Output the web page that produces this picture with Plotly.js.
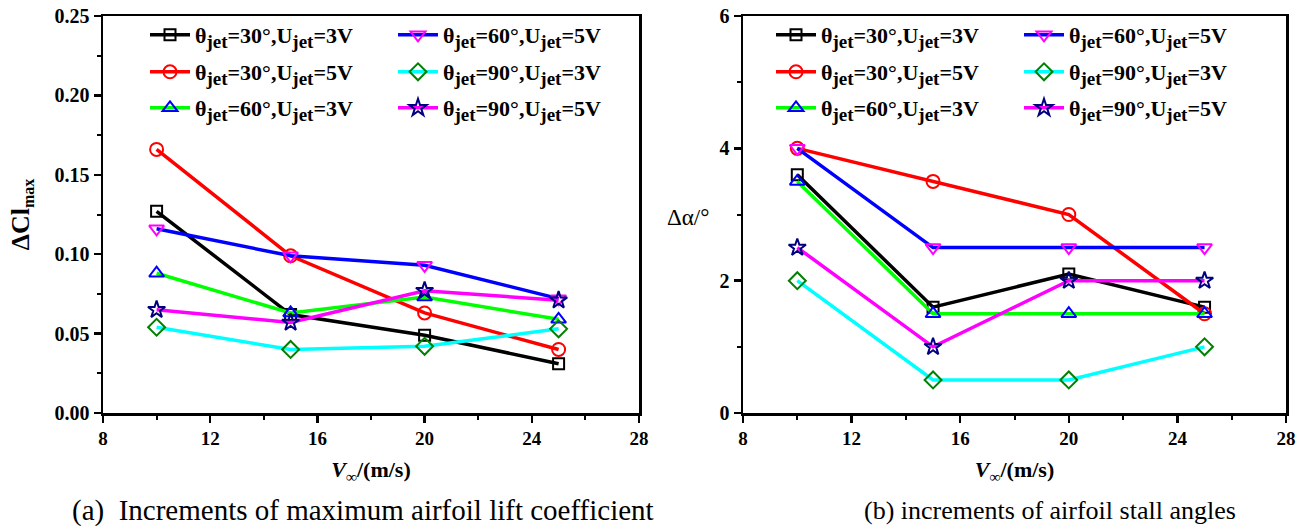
<!DOCTYPE html>
<html>
<head>
<meta charset="utf-8">
<script src="https://cdn.plot.ly/plotly-3.0.1.min.js"></script>
<style>html,body{margin:0;padding:0;background:#fff;}#chart{width:1309px;height:526px;}</style>
</head>
<body>
<div id="chart"></div>
<script>
// ---- data ----
const speeds = [10, 15, 20, 25];
const seriesLabels = ['30°,3V', '30°,5V', '60°,3V', '60°,5V', '90°,3V', '90°,5V'];
// increments of maximum lift coefficient (panel a)
const cl_30_3 = [0.127, 0.062, 0.049, 0.031];
const cl_30_5 = [0.166, 0.099, 0.063, 0.040];
const cl_60_3 = [0.088, 0.063, 0.073, 0.059];
const cl_60_5 = [0.116, 0.099, 0.093, 0.072];
const cl_90_3 = [0.054, 0.040, 0.042, 0.053];
const cl_90_5 = [0.065, 0.057, 0.077, 0.071];
// increments of stall angle (panel b)
const da_30_3 = [3.6, 1.6, 2.1, 1.6];
const da_30_5 = [4.0, 3.5, 3.0, 1.5];
const da_60_3 = [3.5, 1.5, 1.5, 1.5];
const da_60_5 = [4.0, 2.5, 2.5, 2.5];
const da_90_3 = [2.0, 0.5, 0.5, 1.0];
const da_90_5 = [2.5, 1.0, 2.0, 2.0];
const xTickVals = [8, 12, 16, 20, 24, 28];

// ---- styles ----
const W = 1309, H = 526;
const px = x => x / W;
const py = y => 1 - y / H;
const FONT = '"Liberation Serif", "Times New Roman", Times, serif';
const lineColors = ['#000000', '#ff0000', '#00ff00', '#0000ff', '#00ffff', '#ff00ff'];
const markerColors = ['#000000', '#ff0000', '#0000ff', '#ff00ff', '#008000', '#000080'];
const symbols = ['square-open', 'circle-open', 'triangle-up-open', 'triangle-down-open', 'diamond-open', 'star-open'];
const msize = [11, 13, 13, 13, 13, 13];

function legendText(lbl) {
  const [ang, volt] = lbl.split(',');
  const sub = '<sub><span style="font-size:19px">jet</span></sub>';
  return 'θ' + sub + '=' + ang + ',U' + sub + '=' + volt;
}

const clData = [cl_30_3, cl_30_5, cl_60_3, cl_60_5, cl_90_3, cl_90_5];
const daData = [da_30_3, da_30_5, da_60_3, da_60_5, da_90_3, da_90_5];

// legend item positions (pixels): column line-start x, row centre y
const rowsY = [35, 72, 108];
const leftCols = [150, 398];
const rightCols = [776, 1024];

const traces = [];
const layout = {
  width: W, height: H,
  margin: {l: 0, r: 0, t: 0, b: 0},
  paper_bgcolor: '#ffffff', plot_bgcolor: '#ffffff',
  showlegend: true,
  font: {family: FONT, color: '#000'},
  annotations: []
};

function addPanel(data, xa, ya, cols, legOffset) {
  data.forEach((yv, i) => {
    const legName = 'legend' + (legOffset + i === 1 ? '' : (legOffset + i));
    traces.push({
      type: 'scatter', mode: 'lines+markers',
      x: speeds, y: yv, xaxis: xa, yaxis: ya,
      name: legendText(seriesLabels[i]),
      legend: legName,
      line: {color: lineColors[i], width: 3.5},
      marker: {symbol: symbols[i], size: msize[i], color: markerColors[i], line: {color: markerColors[i], width: 2}},
      cliponaxis: false
    });
    const col = i < 3 ? 0 : 1;
    const row = i % 3;
    layout[legName] = {
      x: px(cols[col] - 5), y: py(rowsY[row]), xanchor: 'left', yanchor: 'middle',
      xref: 'paper', yref: 'paper',
      bgcolor: 'rgba(0,0,0,0)', borderwidth: 0,
      itemwidth: 40,
      font: {family: FONT, size: 22, weight: 'bold', color: '#000'}
    };
  });
}
addPanel(clData, 'x', 'y', leftCols, 1);
addPanel(daData, 'x2', 'y2', rightCols, 7);

const xTickFont = {family: FONT, size: 19, weight: 'bold', color: '#000'};
const yTickFont = {family: FONT, size: 20, weight: 'bold', color: '#000'};
function xAxis(domain, anchor) {
  return {
    domain: domain, anchor: anchor, range: [8, 28],
    tickmode: 'array', tickvals: xTickVals,
    ticks: 'outside', ticklen: 7, tickwidth: 2.5, tickcolor: '#000',
    minor: {dtick: 2, tick0: 8, ticks: 'outside', ticklen: 4, tickwidth: 2, tickcolor: '#000', showgrid: false},
    showline: true, linewidth: 2.5, linecolor: '#000', mirror: true,
    showgrid: false, zeroline: false, tickfont: xTickFont,
    title: {text: '<i>V</i><sub>∞</sub>/(m/s)', font: {family: FONT, size: 22, weight: 'bold', color: '#000'}, standoff: 14}
  };
}
function yAxis(domain, anchor, range, dtick, fmt) {
  return {
    domain: domain, anchor: anchor, range: range,
    tick0: 0, dtick: dtick, tickformat: fmt,
    ticks: 'outside', ticklen: 7, tickwidth: 2.5, tickcolor: '#000',
    minor: {dtick: dtick / 2, ticks: 'outside', ticklen: 4, tickwidth: 2, tickcolor: '#000', showgrid: false},
    showline: true, linewidth: 2.5, linecolor: '#000', mirror: true,
    showgrid: false, zeroline: false, tickfont: yTickFont
  };
}
const yDom = [py(413), py(16)];
layout.xaxis = xAxis([px(103), px(639)], 'y');
layout.xaxis2 = xAxis([px(743), px(1286)], 'y2');
layout.yaxis = yAxis(yDom, 'x', [0, 0.25], 0.05, '.2f');
layout.yaxis.title = {text: 'ΔCl<sub><span style="font-size:16px">max</span></sub>', font: {family: FONT, size: 26, weight: 'bold', color: '#000'}, standoff: 18};
layout.yaxis2 = yAxis(yDom, 'x2', [0, 6], 2, 'd');

layout.annotations.push(
  {text: 'Δα/°', x: px(688), y: py(217), xref: 'paper', yref: 'paper', xanchor: 'center', yanchor: 'middle', showarrow: false,
   font: {family: FONT, size: 23, color: '#000'}},
  {text: '(a)  Increments of maximum airfoil lift coefficient', x: px(363), y: py(510), xref: 'paper', yref: 'paper',
   xanchor: 'center', yanchor: 'middle', showarrow: false, font: {family: FONT, size: 29, color: '#000'}},
  {text: '(b) increments of airfoil stall angles', x: px(1050), y: py(510), xref: 'paper', yref: 'paper',
   xanchor: 'center', yanchor: 'middle', showarrow: false, font: {family: FONT, size: 26, color: '#000'}}
);

Plotly.newPlot('chart', traces, layout, {displayModeBar: false, staticPlot: true});
</script>
</body>
</html>
